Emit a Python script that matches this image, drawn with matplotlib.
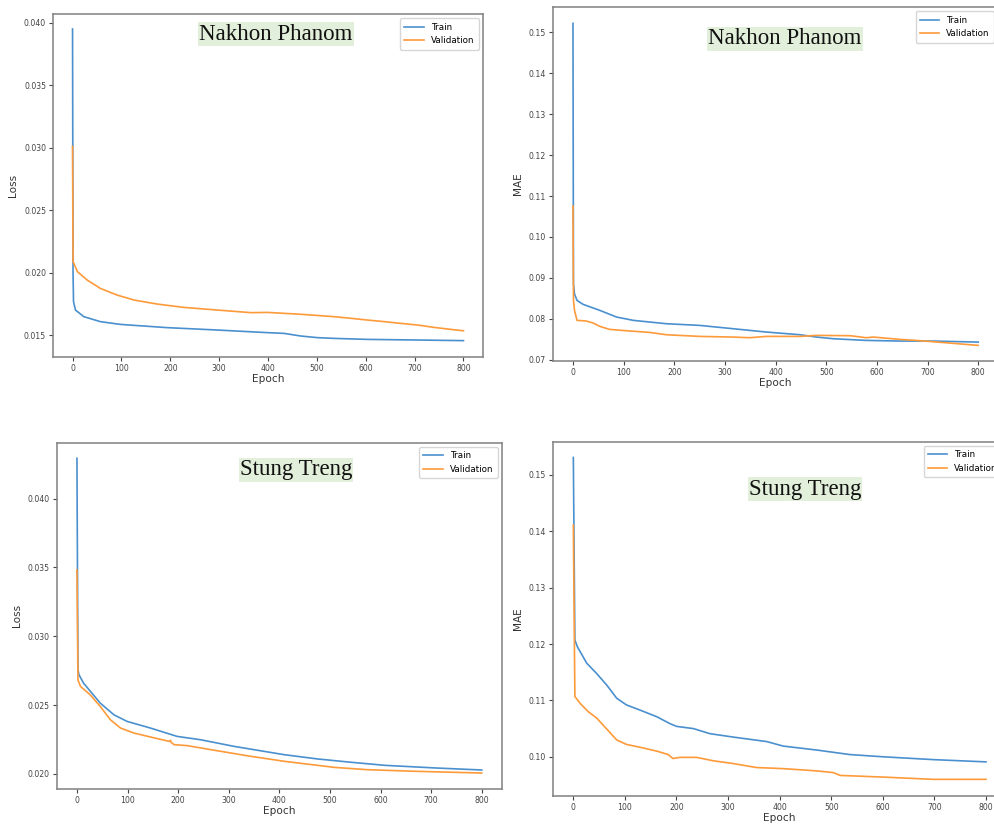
import matplotlib
matplotlib.use("Agg")
import matplotlib.pyplot as plt

# ---- data (epoch, value) ----
np_loss_ep_train = [0, 1, 2, 6, 23, 57, 98, 194, 296, 399, 433, 467, 501, 535, 603, 706, 800]
np_loss_train = [0.0395, 0.0200, 0.01767, 0.0170, 0.01647, 0.01607, 0.01585, 0.01559, 0.0154,
                 0.01519, 0.01513, 0.01492, 0.01479, 0.01473, 0.01465, 0.0146, 0.01455]
np_loss_ep_val = [0, 1, 3, 10, 30, 57, 91, 126, 173, 228, 296, 365, 399, 467, 535, 569, 603,
                  638, 672, 706, 740, 774, 800]
np_loss_val = [0.0301, 0.02087, 0.0207, 0.02007, 0.0194, 0.01873, 0.0182, 0.0178, 0.01748,
               0.01721, 0.0170, 0.01679, 0.01681, 0.01666, 0.01647, 0.01634, 0.0162, 0.01607,
               0.01593, 0.0158, 0.01561, 0.01545, 0.01534]

np_mae_ep_train = [0, 1, 3, 8, 20, 53, 86, 119, 184, 250, 316, 382, 448, 481, 514, 579, 645, 711, 800]
np_mae_train = [0.1522, 0.0886, 0.0861, 0.0845, 0.08354, 0.08207, 0.08044, 0.07963, 0.07881,
                0.0784, 0.07759, 0.07677, 0.07612, 0.07555, 0.07514, 0.07473, 0.07457, 0.07457,
                0.07432]
np_mae_ep_val = [0, 1, 3, 8, 26, 40, 53, 72, 105, 151, 184, 250, 316, 349, 382, 448, 481, 547,
                 579, 593, 645, 678, 744, 800]
np_mae_val = [0.1076, 0.0845, 0.0821, 0.07963, 0.07947, 0.07898, 0.07816, 0.07743, 0.0771,
              0.07669, 0.07612, 0.07571, 0.07555, 0.07539, 0.07571, 0.07571, 0.07596, 0.07588,
              0.07539, 0.07555, 0.07498, 0.07473, 0.07408, 0.07351]

st_loss_ep_train = [0, 2, 4, 13, 46, 73, 99, 145, 198, 244, 310, 377, 410, 476, 542, 608, 707, 800]
st_loss_train = [0.04293, 0.02757, 0.02721, 0.0266, 0.02515, 0.0243, 0.02382, 0.02334, 0.02273,
                 0.02249, 0.02201, 0.0216, 0.0214, 0.02109, 0.02085, 0.02063, 0.02044, 0.02029]
st_loss_ep_val = [0, 2, 7, 26, 46, 66, 86, 112, 145, 182, 185, 186, 192, 218, 277, 344, 410,
                  509, 575, 674, 800]
st_loss_val = [0.03483, 0.02684, 0.02636, 0.02576, 0.02491, 0.02394, 0.02334, 0.02298, 0.02269,
               0.02237, 0.02244, 0.0223, 0.02213, 0.02206, 0.02169, 0.02128, 0.02092, 0.02048,
               0.02031, 0.02019, 0.02007]

st_mae_ep_train = [0, 3, 8, 26, 45, 65, 84, 103, 129, 162, 187, 200, 233, 265, 310, 375, 407,
                   472, 536, 601, 698, 800]
st_mae_train = [0.1531, 0.1207, 0.1195, 0.1166, 0.1148, 0.1127, 0.1104, 0.1092, 0.1083, 0.1071,
                0.1059, 0.1054, 0.1050, 0.1041, 0.1035, 0.1027, 0.1019, 0.1012, 0.1004, 0.1000,
                0.0995, 0.0991]
st_mae_ep_val = [0, 3, 13, 29, 45, 58, 84, 103, 129, 162, 184, 193, 207, 239, 271, 310, 355,
                 407, 472, 504, 517, 601, 698, 800]
st_mae_val = [0.1411, 0.1107, 0.1095, 0.1080, 0.1069, 0.1056, 0.1030, 0.1022, 0.1017, 0.1010,
              0.1004, 0.0997, 0.0999, 0.0999, 0.0993, 0.0988, 0.0981, 0.0979, 0.0975, 0.0972,
              0.0967, 0.0964, 0.0960, 0.0960]

W, H = 995, 824
BLUE = "#4a90cf"
ORANGE = "#fd9a3a"

fig = plt.figure(figsize=(W / 100, H / 100), dpi=100)

# panel boxes in pixels: left, top, right, bottom
panels = [
    dict(box=(53, 14, 483, 357), ylab="Loss", ylim=(0.01324, 0.0407),
         yt=[0.015, 0.020, 0.025, 0.030, 0.035, 0.040], fmt="{:.3f}",
         tr=(np_loss_ep_train, np_loss_train), va=(np_loss_ep_val, np_loss_val),
         title="Nakhon Phanom", tpos=(276, 34)),
    dict(box=(552.7, 7, 998.5, 361), ylab="MAE", ylim=(0.0697, 0.1562),
         yt=[0.07, 0.08, 0.09, 0.10, 0.11, 0.12, 0.13, 0.14, 0.15], fmt="{:.2f}",
         tr=(np_mae_ep_train, np_mae_train), va=(np_mae_ep_val, np_mae_val),
         title="Nakhon Phanom", tpos=(785, 39)),
    dict(box=(56.7, 442.7, 502, 789), ylab="Loss", ylim=(0.01891, 0.04406),
         yt=[0.020, 0.025, 0.030, 0.035, 0.040], fmt="{:.3f}",
         tr=(st_loss_ep_train, st_loss_train), va=(st_loss_ep_val, st_loss_val),
         title="Stung Treng", tpos=(296, 470)),
    dict(box=(552.7, 441.7, 1006.6, 795.7), ylab="MAE", ylim=(0.0931, 0.1559),
         yt=[0.10, 0.11, 0.12, 0.13, 0.14, 0.15], fmt="{:.2f}",
         tr=(st_mae_ep_train, st_mae_train), va=(st_mae_ep_val, st_mae_val),
         title="Stung Treng", tpos=(805, 489)),
]

for p in panels:
    l, t, r, b = p["box"]
    ax = fig.add_axes([l / W, (H - b) / H, (r - l) / W, (b - t) / H])
    ax.plot(p["tr"][0], p["tr"][1], color=BLUE, lw=1.2, label="Train")
    ax.plot(p["va"][0], p["va"][1], color=ORANGE, lw=1.2, label="Validation")
    ax.set_xlim(-40, 840)
    ax.set_ylim(*p["ylim"])
    ax.set_xticks(range(0, 801, 100))
    ax.set_yticks(p["yt"])
    ax.set_yticklabels([p["fmt"].format(v) for v in p["yt"]])
    ax.tick_params(labelsize=5.6, colors="#444444", length=3, width=0.8, pad=2)
    for s in ax.spines.values():
        s.set_color("#808080")
        s.set_linewidth(1.1)
    ax.set_xlabel("Epoch", fontsize=7.6, color="#333333", labelpad=1)
    ax.set_ylabel(p["ylab"], fontsize=7.6, color="#333333", labelpad=4)
    ax.legend(loc="upper right", fontsize=6.3, handlelength=2.2, borderpad=0.5)
    tx, ty = p["tpos"]
    fig.text(tx / W, (H - ty) / H, p["title"], family="Liberation Serif", fontsize=16.5,
             color="#111111", ha="center", va="center",
             bbox=dict(boxstyle="square,pad=0.05", facecolor="#e2efda", edgecolor="none"))

fig.savefig("out.png", dpi=100)
